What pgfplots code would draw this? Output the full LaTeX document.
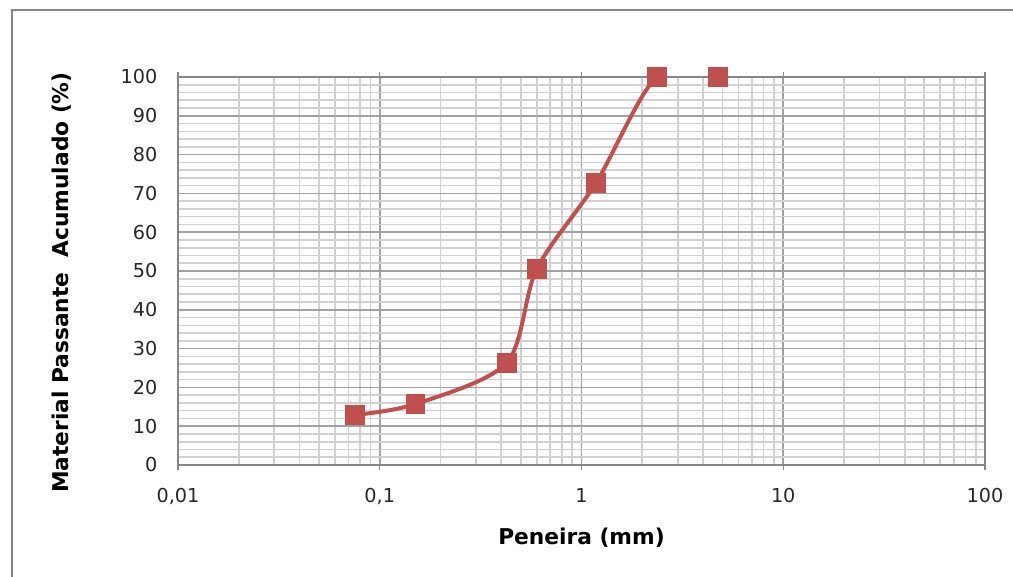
\documentclass[border=0pt]{standalone}
\usepackage{fontspec}
\setmainfont{DejaVu Sans}
\usepackage{pgfplots}
\pgfplotsset{compat=1.18}
\definecolor{exred}{HTML}{C0504D}
\definecolor{framegray}{HTML}{868686}
\begin{document}
\begin{tikzpicture}
\useasboundingbox (-133.5pt,-84pt) rectangle (626.25pt,348.75pt);
\draw[framegray, line width=1pt] (-124.5pt,-120pt) rectangle (700pt,341.25pt);
\begin{axis}[
  at={(0,0)}, anchor=south west,
  scale only axis, width=605.25pt, height=291pt,
  xmode=log, xmin=0.01, xmax=100, ymin=0, ymax=100,
  xtick={0.01,0.1,1,10,100},
  xticklabels={{0,01},{0,1},{1},{10},{100}},
  ytick={0,10,...,100},
  minor y tick num=4,
  grid=both,
  major grid style={color=black!37, line width=1.2pt},
  minor grid style={color=black!18, line width=1.2pt},
  axis line style={framegray, line width=1pt},
  xtick align=outside,
  major tick length=4pt,
  minor tick length=0pt,
  xtick style={framegray, line width=1pt},
  ytick style={draw=none},
  /pgf/number format/assume math mode=true,
  tick label style={font=\fontsize{14.4}{16}\selectfont, text=black!85},
  yticklabel style={xshift=-12pt},
  xticklabel style={yshift=-10pt},
  every axis x label/.style={at={([yshift=-54.75pt]axis description cs:0.5,0)}, anchor=center},
  every axis y label/.style={at={([xshift=-87pt]axis description cs:0,0.47)}, rotate=90, anchor=center},
  label style={font=\bfseries\fontsize{16.3}{19}\selectfont, text=black},
  xlabel={Peneira (mm)},
  ylabel={Material Passante~~Acumulado (\%)},
]
\addplot[exred, line width=3pt, smooth, tension=0.5,
  mark=square*, mark size=7pt,
  mark options={fill=exred, draw=exred, line width=0.5pt}]
  coordinates {
  (0.075,12.9)
  (0.15,15.7)
  (0.425,26.3)
  (0.6,50.5)
  (1.18,72.7)
  (2.36,100)
  (4.75,100)
  };
\end{axis}
\end{tikzpicture}
\end{document}
